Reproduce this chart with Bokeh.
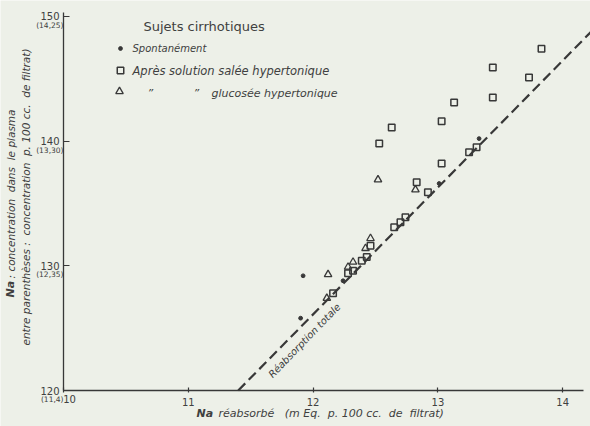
import math
from bokeh.plotting import figure
from bokeh.models import Label, LabelSet, ColumnDataSource, FixedTicker, Range1d
from bokeh.core.properties import value
from bokeh.embed import file_html
from bokeh.resources import INLINE

# ---------------- data ----------------
# Après solution salée hypertonique (squares)
salee_x = [13.83, 13.44, 13.73, 13.13, 13.44, 13.03, 12.63, 12.53, 13.03, 12.83, 12.92,
           13.25, 13.31, 12.74, 12.70, 12.65, 12.46, 12.43, 12.39, 12.32, 12.28, 12.16]
salee_y = [147.4, 145.9, 145.1, 143.1, 143.5, 141.6, 141.1, 139.8, 138.2, 136.7, 135.9,
           139.1, 139.5, 133.9, 133.5, 133.1, 131.6, 130.7, 130.4, 129.6, 129.4, 127.8]
# Après solution glucosée hypertonique (triangles)
gluc_x = [12.52, 12.82, 12.46, 12.42, 12.32, 12.28, 12.12, 12.11]
gluc_y = [136.9, 136.1, 132.2, 131.4, 130.3, 129.9, 129.3, 127.4]
# Spontanément (dots)
spont_x = [13.33, 13.01, 12.24, 11.92, 11.90]
spont_y = [140.2, 136.6, 128.8, 129.2, 125.8]
# Réabsorption totale line
reabs_x = [11.4, 14.25]
reabs_y = [120.0, 149.0]
# ticks
x_ticks = [10, 11, 12, 13, 14]
y_ticks = [120, 130, 140, 150]
y_paren = ["(11,4)", "(12,35)", "(13,30)", "(14,25)"]

# ---------------- layout helpers (page pixel -> data) ----------------
W, H = 590, 426
X0, Y0 = 63, 390          # page pixel of the (10, 120) origin
PX = 124.8
PY = 12.47
def dx(px):
    return 10 + (px - X0) / PX
def dy(py):
    return 120 + (Y0 - py) / PY

PAPER = "#edf0e8"
INK = "#383838"
TXT = "#404040"
FONT = "DejaVu Sans"
NB = "\u00a0"

p = figure(width=W, height=H,
           x_range=Range1d(dx(0), dx(W)), y_range=Range1d(dy(H), dy(0)),
           output_backend="svg", toolbar_location=None,
           min_border_left=0, min_border_right=0, min_border_top=0, min_border_bottom=0)
p.background_fill_color = PAPER
p.border_fill_color = PAPER
p.outline_line_color = None
p.xgrid.visible = False
p.ygrid.visible = False

for ax in (p.xaxis[0], p.yaxis[0]):
    ax.axis_line_color = INK
    ax.axis_line_width = 1.3
    ax.major_tick_line_color = INK
    ax.major_tick_line_width = 1.2
    ax.minor_tick_line_color = None
    ax.major_label_text_color = TXT
    ax.major_label_text_font = FONT
    ax.major_label_text_font_size = "10px"

p.xaxis.fixed_location = 120
p.xaxis.bounds = (10, dx(583))
p.xaxis.ticker = FixedTicker(ticks=x_ticks)
p.xaxis.major_label_overrides = {10: ""}
p.xaxis.major_tick_in = 3
p.xaxis.major_tick_out = 2
p.xaxis.major_label_standoff = 5

p.yaxis.fixed_location = 10
p.yaxis.bounds = (120, dy(12))
p.yaxis.ticker = FixedTicker(ticks=y_ticks)
p.yaxis.major_tick_in = 6
p.yaxis.major_tick_out = 0
p.yaxis.major_label_standoff = 4

# parenthesised values under the y tick labels
paren_src = ColumnDataSource(dict(x=[dx(X0)] * len(y_ticks),
                                  y=[v - 9 / PY for v in y_ticks],
                                  t=y_paren))
p.add_layout(LabelSet(x="x", y="y", text="t", source=paren_src,
                      text_font=value(FONT), text_font_size=value("7.5px"),
                      text_color=value(TXT),
                      text_align="right", text_baseline="middle"))

# réabsorption totale
p.line(reabs_x, reabs_y, line_color=INK, line_width=2.2, line_dash="10 5")

# data marks
p.scatter(salee_x, salee_y, marker="square", size=6.5, line_color=INK,
          line_width=1.5, fill_color=None)
p.scatter(gluc_x, gluc_y, marker="triangle", size=7.5, line_color=INK,
          line_width=1.3, fill_color=None)
p.scatter(spont_x, spont_y, marker="circle", size=3.8, line_color=INK,
          fill_color=INK)

# legend marks
p.scatter([dx(120)], [dy(48)], marker="circle", size=3.8, line_color=INK, fill_color=INK)
p.scatter([dx(120)], [dy(70)], marker="square", size=6.5, line_color=INK,
          line_width=1.5, fill_color=None)
p.scatter([dx(119)], [dy(91)], marker="triangle", size=7.5, line_color=INK,
          line_width=1.3, fill_color=None)

def lab(text, px, py, size, style="normal", align="left", baseline="middle", angle=0.0):
    p.add_layout(Label(x=dx(px), y=dy(py), text=text, text_font=FONT,
                       text_font_size=f"{size}px", text_font_style=style,
                       text_color=TXT, text_align=align, text_baseline=baseline,
                       angle=angle))

lab("Sujets cirrhotiques", 143, 26, 13)
lab("Spontanément", 132, 48, 10, "italic")
lab("Après solution salée hypertonique", 132, 70, 11.5, "italic")
lab("\u201d", 147, 93, 11, "italic")
lab("\u201d", 193, 93, 11, "italic")
lab("glucosée hypertonique", 211, 93, 11, "italic")

lab("Réabsorption totale", 304, 340, 10, "italic", align="center", angle=math.radians(46))

# first x tick label, set slightly right of the axis corner as in the original
lab("10", 69, 398, 10, align="center")

# x axis title
lab("Na", 196, 413, 11, "bold italic")
lab(f"réabsorbé{NB}{NB} (m Eq.{NB} p. 100 cc.{NB} de{NB} filtrat)", 218, 413, 11, "italic")

# y axis title (two rotated lines)
lab("Na", 10, 297, 11, "bold italic", angle=math.pi / 2)
lab(f":{NB}concentration{NB}{NB}dans{NB}{NB}le{NB}plasma", 10, 278, 10.5,
    "italic", angle=math.pi / 2)
lab(f"entre parenthèses :{NB} concentration{NB} p. 100 cc.{NB} de filtrat)", 25, 345, 10.5,
    "italic", angle=math.pi / 2)

open("out.html", "w").write(file_html(p, INLINE))
